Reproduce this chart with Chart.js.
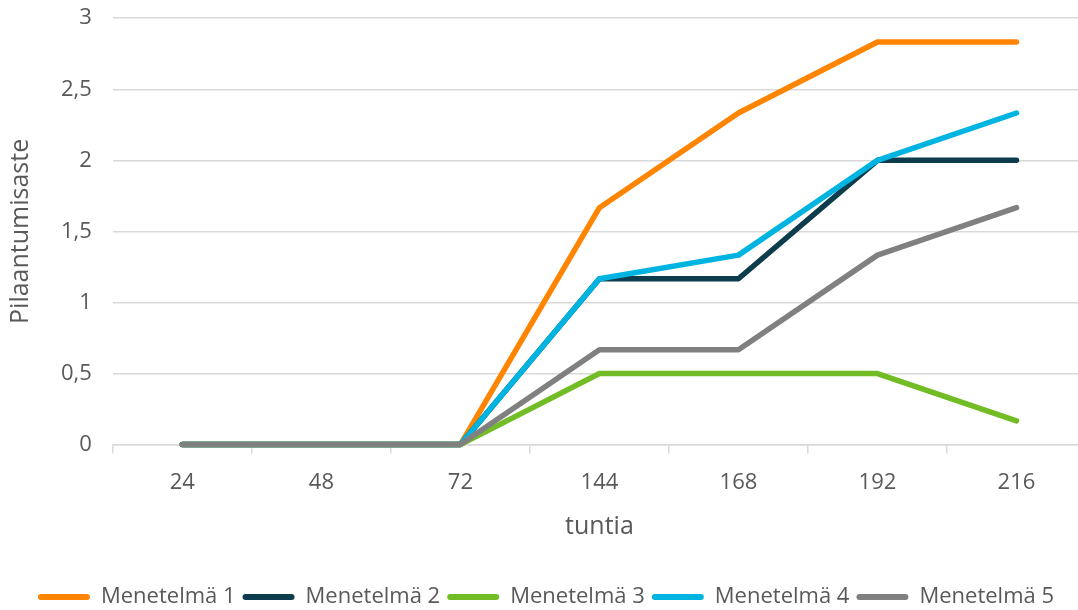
<!DOCTYPE html>
<html>
<head>
<meta charset="utf-8">
<script src="https://cdn.jsdelivr.net/npm/chart.js@4/dist/chart.umd.min.js"></script>
<style>
  html, body { margin: 0; padding: 0; background: #fff; overflow: hidden; }
  #wrap { width: 1100px; height: 636px; margin-top: -16px; }
</style>
</head>
<body>
<div id="wrap"><canvas id="chart"></canvas></div>
<script>
const hours = ['24', '48', '72', '144', '168', '192', '216'];
const method1 = [0, 0, 0, 1.667, 2.333, 2.833, 2.833];
const method2 = [0, 0, 0, 1.167, 1.167, 2, 2];
const method3 = [0, 0, 0, 0.5, 0.5, 0.5, 0.167];
const method4 = [0, 0, 0, 1.167, 1.333, 2, 2.333];
const method5 = [0, 0, 0, 0.667, 0.667, 1.333, 1.667];
const seriesNames = ['Menetelmä 1', 'Menetelmä 2', 'Menetelmä 3', 'Menetelmä 4', 'Menetelmä 5'];
const seriesColors = ['#ff8400', '#0d3d4c', '#72bc26', '#00b4e2', '#808080'];

const textColor = '#595959';
const gridColor = '#d9d9d9';
const font = 'Open Sans';

const series = [method1, method2, method3, method4, method5];

new Chart(document.getElementById('chart'), {
  type: 'line',
  data: {
    labels: hours,
    datasets: series.map((d, i) => ({
      label: seriesNames[i],
      data: d,
      borderColor: seriesColors[i],
      backgroundColor: seriesColors[i],
      borderWidth: 5.5,
      pointRadius: 0,
      tension: 0,
      borderCapStyle: 'round',
      borderJoinStyle: 'round',
      clip: 10,
      order: series.length - i,
    })),
  },
  options: {
    responsive: true,
    maintainAspectRatio: false,
    animation: false,
    layout: { padding: { left: 6, right: 14, top: 0, bottom: 2 } },
    plugins: {
      tooltip: { enabled: false },
      legend: {
        position: 'bottom',
        labels: {
          color: textColor,
          font: { family: font, size: 22 },
          boxWidth: 52,
          boxHeight: 6,
          padding: 7,
          sort: (a, b) => a.datasetIndex - b.datasetIndex,
          generateLabels: chart => chart.data.datasets.map((ds, i) => ({
            text: ds.label,
            fillStyle: ds.borderColor,
            strokeStyle: ds.borderColor,
            lineWidth: 0,
            borderRadius: 3,
            datasetIndex: i,
            fontColor: textColor,
          })),
        },
      },
    },
    scales: {
      x: {
        offset: true,
        grid: {
          offset: true,
          drawOnChartArea: false,
          drawTicks: true,
          tickLength: 9,
          color: gridColor,
          lineWidth: 1.5,
        },
        border: { color: gridColor, width: 1.5 },
        ticks: { color: textColor, font: { family: font, size: 22 }, padding: 16 },
        title: {
          display: true,
          text: 'tuntia',
          color: textColor,
          font: { family: font, size: 25 },
          padding: { top: 0, bottom: 37 },
        },
      },
      y: {
        min: 0,
        max: 3,
        grid: { color: gridColor, lineWidth: 1.5, drawTicks: false },
        border: { display: false },
        ticks: {
          stepSize: 0.5,
          color: textColor,
          font: { family: font, size: 22 },
          padding: 21,
          callback: v => String(v).replace('.', ','),
        },
        title: {
          display: true,
          text: 'Pilaantumisaste',
          color: textColor,
          font: { family: font, size: 25 },
          padding: { top: 0, bottom: 4 },
        },
      },
    },
  },
});
</script>
</body>
</html>
